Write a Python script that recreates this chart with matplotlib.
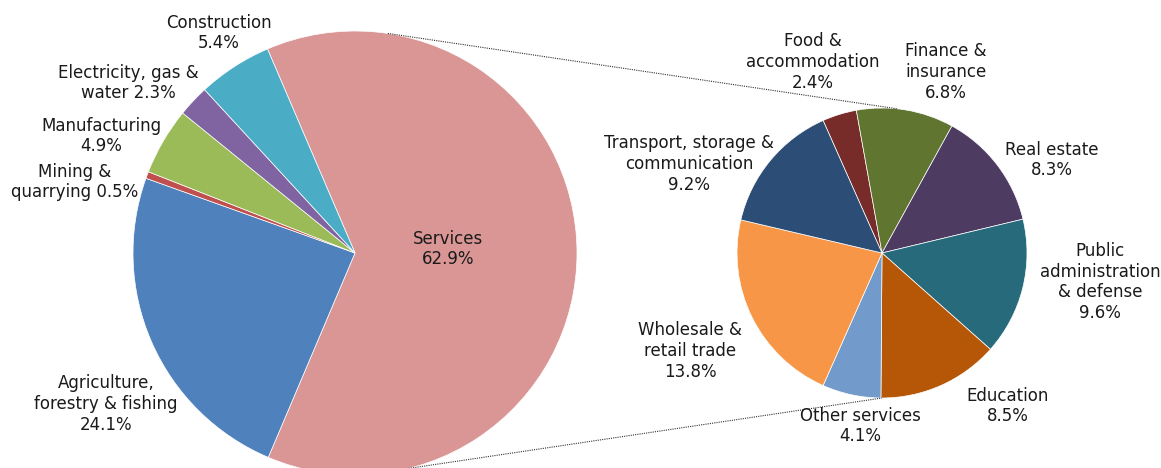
import numpy as np
import matplotlib.pyplot as plt

plt.rcParams["font.family"] = ["DejaVu Sans"]

# main pie (share of GDP)
main_labels = ["Services", "Agriculture,\nforestry & fishing", "Mining &\nquarrying",
               "Manufacturing", "Electricity, gas &\nwater", "Construction"]
main_values = [62.9, 24.1, 0.5, 4.9, 2.3, 5.4]
main_colors = ["#D99694", "#4F81BD", "#C0504D", "#9BBB59", "#8064A2", "#4BACC6"]

# breakdown of services
sub_labels = ["Food &\naccommodation", "Finance &\ninsurance", "Real estate",
              "Public\nadministration\n& defense", "Education", "Other services",
              "Wholesale &\nretail trade", "Transport, storage &\ncommunication"]
sub_values = [2.4, 6.8, 8.3, 9.6, 8.5, 4.1, 13.8, 9.2]
sub_colors = ["#772C2A", "#5F7530", "#4D3B62", "#276A7C", "#B65708", "#729ACA",
              "#F79646", "#2C4D75"]

W, H = 1161, 468
fig = plt.figure(figsize=(W / 100, H / 100), dpi=100)
ax = fig.add_axes([0, 0, 1, 1])

c1, r1 = (355, H - 253), 222
c2, r2 = (882, H - 253), 145

# services slice centred on the right-hand side
start1 = main_values[0] / 100 * 360 / 2
ax.pie(main_values, colors=main_colors, startangle=start1, counterclock=False,
       center=c1, radius=r1, frame=True,
       wedgeprops=dict(edgecolor="white", linewidth=0.5))

first6 = sum(sub_values[:6]) / sum(sub_values) * 360
ax.pie(sub_values, colors=sub_colors, startangle=first6 / 2, counterclock=False,
       center=c2, radius=r2, frame=True,
       wedgeprops=dict(edgecolor="white", linewidth=0.5))
ax.set_xlim(0, W)
ax.set_ylim(0, H)
ax.set_aspect("equal")
ax.axis("off")


def on_circle(c, r, deg):
    a = np.radians(deg)
    return c[0] + r * np.cos(a), c[1] + r * np.sin(a)


# connector lines between the pies
for a1, a2 in [(81.5, 84), (-76, -90)]:
    p1 = on_circle(c1, r1, a1)
    p2 = on_circle(c2, r2, a2)
    ax.plot([p1[0], p2[0]], [p1[1], p2[1]], color="#333333", lw=0.8, ls=(0, (1, 1)))

# label positions (pixels from top-left)
main_pos = [(448, 249), (106, 404), (75, 182), (101, 136), (128, 83), (219, 33)]
sub_pos = [(813, 62), (946, 72), (1052, 160), (1100, 282), (1008, 406), (860, 426),
           (690, 351), (689, 164)]

for lab, v, (x, y) in zip(main_labels, main_values, main_pos):
    if lab == "Mining &\nquarrying" or lab == "Electricity, gas &\nwater":
        txt = f"{lab} {v}%"
    else:
        txt = f"{lab}\n{v}%"
    ax.text(x, H - y, txt, ha="center", va="center", fontsize=12,
            color="#1a1a1a", linespacing=1.2)

for lab, v, (x, y) in zip(sub_labels, sub_values, sub_pos):
    ax.text(x, H - y, f"{lab}\n{v}%", ha="center", va="center", fontsize=12,
            color="#1a1a1a", linespacing=1.2)

fig.savefig("out.png", dpi=100)
